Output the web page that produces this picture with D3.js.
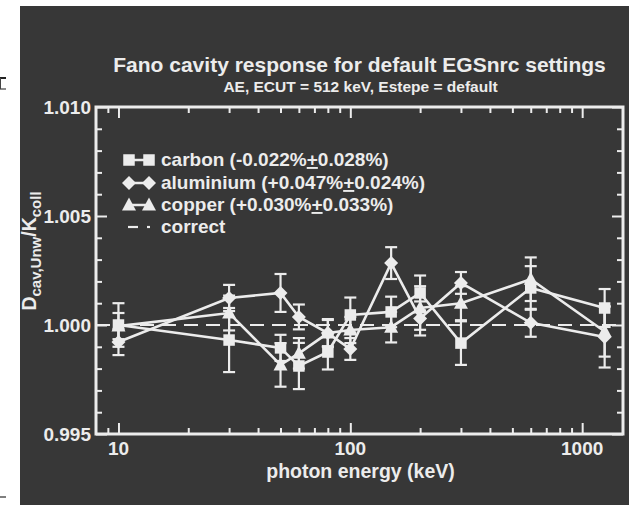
<!DOCTYPE html>
<html><head><meta charset="utf-8">
<script src="https://cdn.jsdelivr.net/npm/d3@7"></script>
<style>
html,body{margin:0;padding:0;background:#fff;}
svg{display:block;}
text{font-family:"Liberation Sans",Arial,Helvetica,sans-serif;}
</style></head>
<body>
<svg id="chart" width="629" height="505"></svg>
<script>
const energies = [10, 30, 50, 60, 80, 100, 150, 200, 300, 600, 1250];
const carbon    = [1.0000, 0.99931, 0.99895, 0.99812, 0.99876, 1.00046, 1.00060, 1.00147, 0.99917, 1.00170, 1.00078];
const carbonErr = [0.0010, 0.00147, 0.00060, 0.00106, 0.00080, 0.00080, 0.00070, 0.00080, 0.00100, 0.00100, 0.00087];
const aluminium    = [0.99922, 1.00124, 1.00147, 1.00037, 0.99963, 0.99890, 1.00284, 1.00030, 1.00193, 1.00010, 0.99945];
const aluminiumErr = [0.00060, 0.00060, 0.00087, 0.00057, 0.00064, 0.00050, 0.00073, 0.00078, 0.00050, 0.00064, 0.00140];
const copper    = [0.99995, 1.00055, 0.99817, 0.99870, 0.99963, 0.99977, 0.99990, 1.00078, 1.00100, 1.00210, 0.99970];
const copperErr = [0.00060, 0.00080, 0.00100, 0.00070, 0.00060, 0.00060, 0.00070, 0.00100, 0.00078, 0.00100, 0.00115];
const seriesNames = ["carbon", "aluminium", "copper"];
const legendStats = ["(-0.022%", "(+0.047%", "(+0.030%"];
const legendErrs  = ["0.028%)", "0.024%)", "0.033%)"];
const xMajorTicks = [10, 100, 1000];
const xMinorTicks = [9, 20, 30, 40, 50, 60, 70, 80, 90, 200, 300, 400, 500, 600, 700, 800, 900];
const yMajorTicks = [0.995, 1.000, 1.005, 1.010];
const yMinorTicks = [0.996, 0.997, 0.998, 0.999, 1.001, 1.002, 1.003, 1.004, 1.006, 1.007, 1.008, 1.009];
const titleText = "Fano cavity response for default EGSnrc settings";
const subtitleText = "AE, ECUT = 512 keV, Estepe = default";
const xLabel = "photon energy (keV)";

const FG = "#ececec", BG = "#373737";
const svg = d3.select("#chart");
svg.append("rect").attr("x",20).attr("y",6).attr("width",609).attr("height",499).attr("fill",BG);
svg.append("line").attr("x1",0).attr("x2",6).attr("y1",78).attr("y2",78).attr("stroke","#222").attr("stroke-width",2);
svg.append("line").attr("x1",0).attr("x2",6).attr("y1",89).attr("y2",89).attr("stroke","#666").attr("stroke-width",1.5);
svg.append("line").attr("x1",0.5).attr("x2",0.5).attr("y1",78).attr("y2",89).attr("stroke","#444").attr("stroke-width",1);
svg.append("line").attr("x1",0).attr("x2",6).attr("y1",497).attr("y2",497).attr("stroke","#555").attr("stroke-width",1.5);

const L=96, R=623, T=107, B=434;
const x = d3.scaleLog().domain([8,1500]).range([L,R]);
const y = d3.scaleLinear().domain([0.995,1.010]).range([B,T]);

function axisGroup(axis, tx, ty){
  const g = svg.append("g").attr("transform",`translate(${tx},${ty})`).call(axis);
  g.select(".domain").remove();
  g.selectAll(".tick line").attr("stroke",FG).attr("stroke-width",2);
  g.selectAll("text").remove();
  return g;
}
axisGroup(d3.axisBottom(x).tickValues(xMajorTicks).tickSize(-11), 0, B);
axisGroup(d3.axisBottom(x).tickValues(xMinorTicks).tickSize(-6), 0, B);
axisGroup(d3.axisTop(x).tickValues(xMajorTicks).tickSize(-11), 0, T);
axisGroup(d3.axisTop(x).tickValues(xMinorTicks).tickSize(-6), 0, T);
axisGroup(d3.axisLeft(y).tickValues(yMajorTicks).tickSize(-11), L, 0);
axisGroup(d3.axisLeft(y).tickValues(yMinorTicks).tickSize(-6), L, 0);
axisGroup(d3.axisRight(y).tickValues(yMajorTicks).tickSize(-11), R, 0);
axisGroup(d3.axisRight(y).tickValues(yMinorTicks).tickSize(-6), R, 0);

svg.append("rect").attr("x",L).attr("y",T).attr("width",R-L).attr("height",B-T)
  .attr("fill","none").attr("stroke",FG).attr("stroke-width",3);

svg.selectAll(".ylab").data(yMajorTicks).enter().append("text")
  .attr("x",L-5).attr("y",d=>y(d)+7).attr("text-anchor","end")
  .attr("fill",FG).attr("font-size",19).attr("font-weight","bold")
  .text(d=>d3.format(".3f")(d));
svg.selectAll(".xlab").data(xMajorTicks).enter().append("text")
  .attr("x",d=>x(d)).attr("y",B+21).attr("text-anchor","middle")
  .attr("fill",FG).attr("font-size",19).attr("font-weight","bold")
  .text(d=>d);

svg.append("text").attr("x",(L+R)/2).attr("y",72).attr("text-anchor","middle")
  .attr("fill",FG).attr("font-size",21).attr("font-weight","bold").text(titleText);
svg.append("text").attr("x",(L+R)/2+1).attr("y",92).attr("text-anchor","middle")
  .attr("fill",FG).attr("font-size",15.5).attr("font-weight","bold").text(subtitleText);
svg.append("text").attr("x",(L+R)/2+1).attr("y",478).attr("text-anchor","middle")
  .attr("fill",FG).attr("font-size",19.5).attr("font-weight","bold").text(xLabel);
const yl = svg.append("text").attr("transform","translate(36,251) rotate(-90)").attr("text-anchor","middle")
  .attr("fill",FG).attr("font-weight","bold").attr("font-size",19.5);
yl.append("tspan").text("D");
yl.append("tspan").attr("font-size",15).attr("dy",5).text("cav,Unw");
yl.append("tspan").attr("dy",-5).text("/K");
yl.append("tspan").attr("font-size",15).attr("dy",5).text("coll");

svg.append("line").attr("x1",L).attr("x2",R).attr("y1",y(1)).attr("y2",y(1))
  .attr("stroke",FG).attr("stroke-width",2).attr("stroke-dasharray","14,8");

function markerPath(i){
  if(i===0) return "M-5.75,-5.75H5.75V5.75H-5.75Z";
  if(i===1) return "M0,-7L7,0L0,7L-7,0Z";
  return "M0,-7.5L7,5.5L-7,5.5Z";
}

const allVals = [carbon, aluminium, copper];
const allErrs = [carbonErr, aluminiumErr, copperErr];
const line = d3.line().x(d=>x(d.e)).y(d=>y(d.v));
allVals.forEach((vals,i)=>{
  const pts = energies.map((e,k)=>({e, v:vals[k], err:allErrs[i][k]}));
  const g = svg.append("g");
  g.append("path").attr("d",line(pts)).attr("fill","none").attr("stroke",FG).attr("stroke-width",2.6);
  pts.forEach(p=>{
    const cx = x(p.e);
    g.append("line").attr("x1",cx).attr("x2",cx).attr("y1",y(p.v-p.err)).attr("y2",y(p.v+p.err)).attr("stroke",FG).attr("stroke-width",2.2);
    [p.v-p.err,p.v+p.err].forEach(v=>g.append("line").attr("x1",cx-6).attr("x2",cx+6).attr("y1",y(v)).attr("y2",y(v)).attr("stroke",FG).attr("stroke-width",2.2));
    g.append("path").attr("d",markerPath(i)).attr("transform",`translate(${cx},${y(p.v)})`).attr("fill",FG);
  });
});

const legY = [166, 189, 211, 233];
seriesNames.forEach((n,i)=>{
  const yy = legY[i]-6;
  svg.append("line").attr("x1",129).attr("x2",149).attr("y1",yy).attr("y2",yy).attr("stroke",FG).attr("stroke-width",2.5);
  [129,149].forEach(cx=>svg.append("path").attr("d",markerPath(i)).attr("transform",`translate(${cx},${yy})`).attr("fill",FG));
  const t = svg.append("text").attr("x",161).attr("y",legY[i]).attr("fill",FG).attr("font-size",19).attr("font-weight","bold");
  t.append("tspan").text(n+" "+legendStats[i]);
  t.append("tspan").attr("text-decoration","underline").text("+");
  t.append("tspan").text(legendErrs[i]);
});
svg.append("line").attr("x1",128).attr("x2",138).attr("y1",legY[3]-6).attr("y2",legY[3]-6).attr("stroke",FG).attr("stroke-width",2.2);
svg.append("line").attr("x1",147).attr("x2",150).attr("y1",legY[3]-6).attr("y2",legY[3]-6).attr("stroke",FG).attr("stroke-width",2.2);
svg.append("text").attr("x",161).attr("y",legY[3]).attr("fill",FG).attr("font-size",19).attr("font-weight","bold").text("correct");
</script>
</body></html>
